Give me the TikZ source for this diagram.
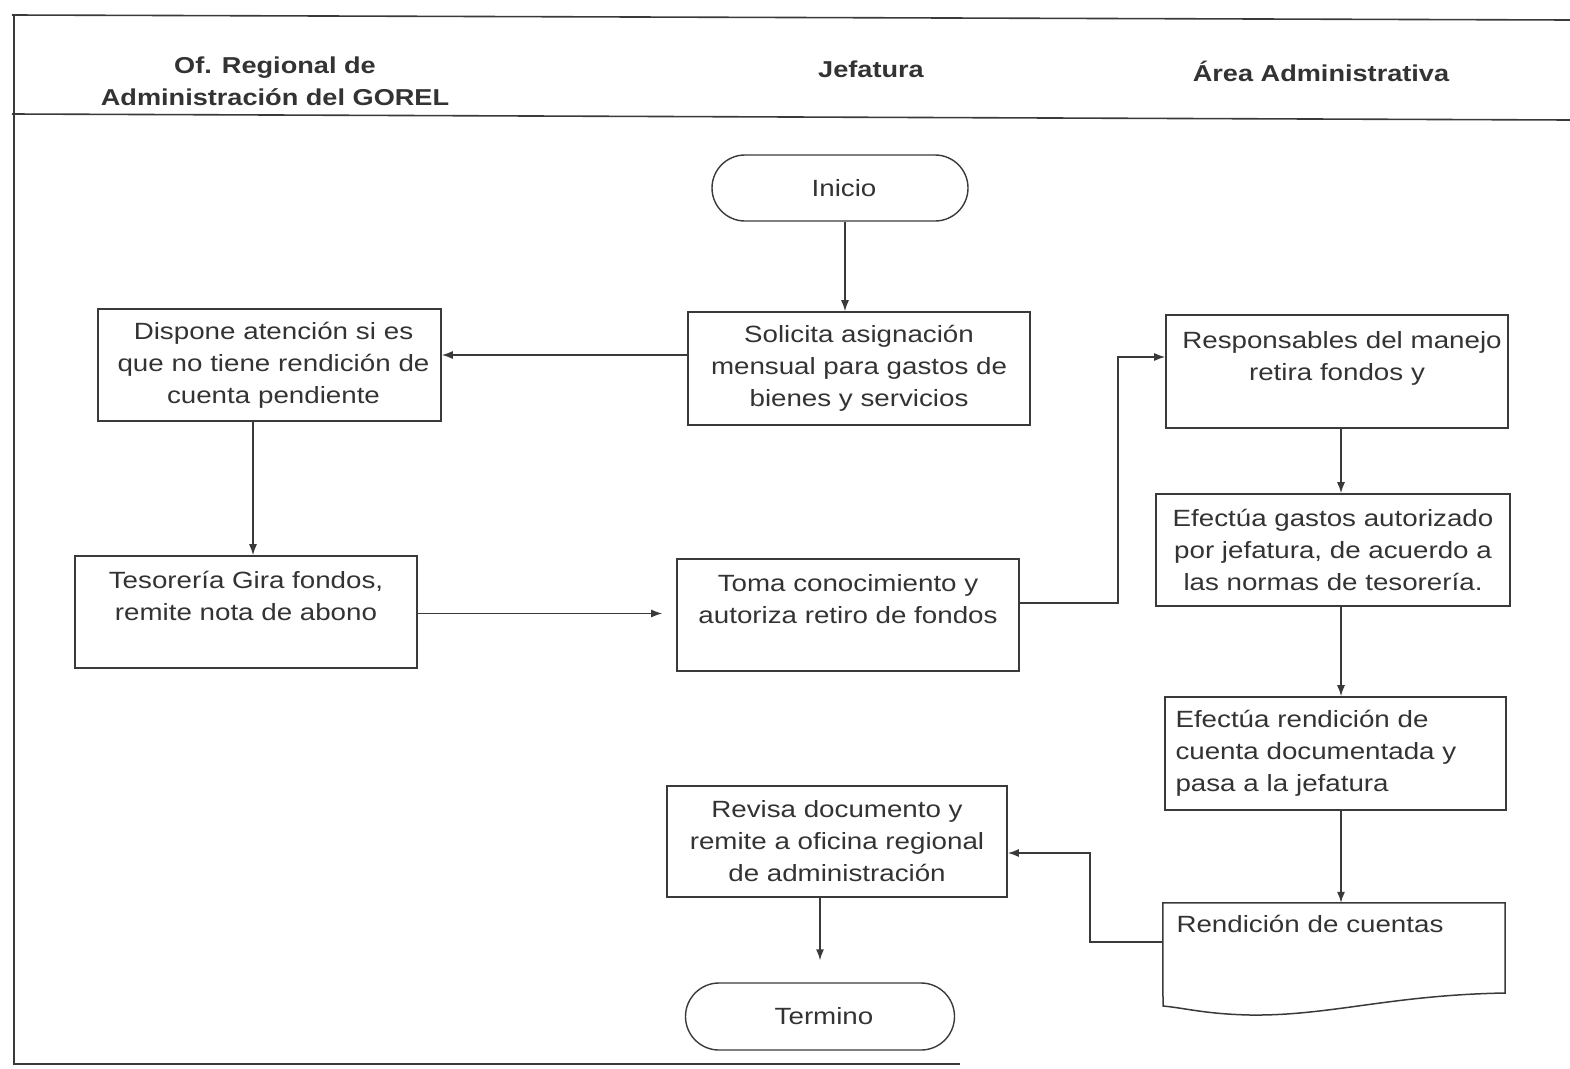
\documentclass[tikz,border=0pt]{standalone}
\usepackage{fontspec}
\setmainfont{Liberation Sans}[FakeStretch=1.18]
\usetikzlibrary{arrows.meta,shapes.misc,calc}
\definecolor{ink}{HTML}{3A3A3A}
\definecolor{txt}{HTML}{333333}
\begin{document}
\begin{tikzpicture}[x=1pt,y=-1pt,
  every node/.style={font=\fontsize{23.5}{32}\selectfont, text=txt, inner sep=0pt},
  stepbox/.style={draw=ink, line width=1.6pt, rectangle, align=center},
  termbox/.style={draw=ink, line width=1.4pt, rounded rectangle, minimum width=256, minimum height=66},
  head/.style={font=\fontsize{23}{32}\selectfont\bfseries, text=txt, align=center},
  arr/.style={draw=ink, line width=1.4pt, -{Latex[length=11pt,width=8pt]}},
  frame/.style={draw=ink, line width=1.6pt}]
\useasboundingbox (0,0) rectangle (1570,1068);

% swimlane frame
\draw[frame] (12,15) -- (1570,20);
\draw[frame] (12,114) -- (1570,120);
\draw[frame] (14,15) -- (14,1064) -- (960,1064);

% lane headings
\node[head] (h1) at (275,81) {Of. Regional de\\Administración del GOREL};
\node[head] (h2) at (871,69) {Jefatura};
\node[head] (h3) at (1321,71) {Área Administrativa};

% process steps
\node[termbox] (inicio) at (840,188) {\hspace*{8pt}Inicio};
\node[stepbox, minimum width=342, minimum height=113] (solicita) at (859,368.5)
  {Solicita asignación\\mensual para gastos de\\bienes y servicios};
\node[stepbox, minimum width=343, minimum height=112, text width=330] (dispone) at (269.5,365)
  {\hspace*{8pt}Dispone atención si es\\\hspace*{8pt}que no tiene rendición de\\\hspace*{8pt}cuenta pendiente};
\node[stepbox, minimum width=342, minimum height=112] (tesoreria) at (246,612)
  {Tesorería Gira fondos,\\remite nota de abono\\\mbox{}};
\node[stepbox, minimum width=342, minimum height=112] (toma) at (848,615)
  {Toma conocimiento y\\autoriza retiro de fondos\\\mbox{}};
\node[stepbox, minimum width=342, minimum height=113, text width=334] (responsables) at (1337,371.5)
  {\hspace*{10pt}Responsables del manejo\\retira fondos y\\\mbox{}};
\node[stepbox, minimum width=354, minimum height=112] (gastos) at (1333,550)
  {Efectúa gastos autorizado\\por jefatura, de acuerdo a\\las normas de tesorería.};
\node[stepbox, minimum width=341, minimum height=113, text width=320, align=left] (rendicion) at (1335.5,753.5)
  {Efectúa rendición de\\cuenta documentada y\\pasa a la jefatura};
\node[stepbox, minimum width=340, minimum height=111] (revisa) at (837,841.5)
  {Revisa documento y\\remite a oficina regional\\de administración};
\node[rectangle, minimum width=342, minimum height=102, text width=315, align=left] (cuentas) at (1334,954)
  {\raisebox{-4pt}{Rendición de cuentas}\\\mbox{}\\\mbox{}};
\draw[draw=ink, line width=1.5pt] (cuentas.north west) -- (cuentas.north east)
  -- (1505,993) .. controls (1390,995) and (1330,1016) .. (1250,1015)
  .. controls (1205,1014) and (1185,1008) .. (1163,1006) -- cycle;
\node[termbox, minimum width=269, minimum height=67] (termino) at (820,1016.5) {\hspace*{8pt}Termino};

% connectors
\draw[arr] ([xshift=5pt]inicio.south) -- ([xshift=5pt]inicio.south |- solicita.north);
\draw[arr] ([yshift=13.5pt]solicita.west) -- ([yshift=13.5pt]solicita.west -| dispone.east);
\draw[arr] ([xshift=-16.5pt]dispone.south) -- ([xshift=-16.5pt]dispone.south |- tesoreria.north);
\draw[arr, shorten >=14pt] ([yshift=-1.5pt]tesoreria.east) -- ([yshift=-1.5pt]tesoreria.east -| toma.west);
\draw[arr] ([yshift=12pt]toma.east) -- ++(98,0) |- ([yshift=14.5pt]responsables.west);
\draw[arr] ([xshift=4pt]responsables.south) -- ([xshift=4pt]responsables.south |- gastos.north);
\draw[arr] ([xshift=8pt]gastos.south) -- ([xshift=8pt]gastos.south |- rendicion.north);
\draw[arr] ([xshift=5.5pt]rendicion.south) -- ([xshift=5.5pt]rendicion.south |- cuentas.north);
\draw[arr] ([yshift=12pt]cuentas.west) -- ++(-73,0) |- ([yshift=-11.5pt]revisa.east);
\draw[arr, shorten >=22pt] ([xshift=-17pt]revisa.south) -- (termino.north);
\end{tikzpicture}
\end{document}
